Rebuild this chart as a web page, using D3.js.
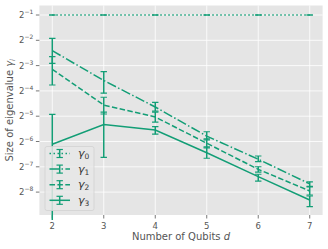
<!DOCTYPE html>
<html lang="en">
<head>
  <meta charset="utf-8">
  <script src="https://d3js.org/d3.v7.min.js"></script>
  <style>
    body { margin: 0; background: #fff; }
    text { font-family: "DejaVu Sans", sans-serif; }
  </style>
</head>
<body>
  <svg width="328" height="249" id="chart"></svg>
  <script>
    // data
    let qubits = [2, 3, 4, 5, 6, 7];
    let yTicks = [-1, -2, -3, -4, -5, -6, -7, -8]; // powers of two

    let gamma0 = [0.5, 0.5, 0.5, 0.5, 0.5, 0.5];
    let gamma0Lo = [0.5, 0.5, 0.5, 0.5, 0.5, 0.5];
    let gamma0Hi = [0.5, 0.5, 0.5, 0.5, 0.5, 0.5];

    let gamma1 = [0.188, 0.0831, 0.0402, 0.0181, 0.00962, 0.00489];
    let gamma1Lo = [0.133, 0.0587, 0.0360, 0.0163, 0.00898, 0.00456];
    let gamma1Hi = [0.264, 0.106, 0.0457, 0.0204, 0.0105, 0.00518];

    let gamma2 = [0.113, 0.0424, 0.0306, 0.0149, 0.00729, 0.00403];
    let gamma2Lo = [0.0735, 0.0332, 0.0266, 0.0131, 0.00677, 0.00361];
    let gamma2Hi = [0.160, 0.0525, 0.0350, 0.0168, 0.00782, 0.00449];

    let gamma3 = [0.0145, 0.0249, 0.0214, 0.0115, 0.00596, 0.00315];
    let gamma3Lo = [0.001, 0.0101, 0.0191, 0.00987, 0.00529, 0.00263];
    let gamma3Hi = [0.0329, 0.0350, 0.0235, 0.0135, 0.00637, 0.00351];

    let seriesNames = ["0", "1", "2", "3"];
    let dashes = ["1.5,2.5", "9.6,2.4,1.5,2.4", "5.5,2.4", null];

    let series = [
      {v: gamma0, lo: gamma0Lo, hi: gamma0Hi},
      {v: gamma1, lo: gamma1Lo, hi: gamma1Hi},
      {v: gamma2, lo: gamma2Lo, hi: gamma2Hi},
      {v: gamma3, lo: gamma3Lo, hi: gamma3Hi}
    ];

    let color = "#139e76";
    let svg = d3.select("#chart");
    let pLeft = 39.4, pRight = 322.6, pTop = 5.5, pBottom = 215;

    let x = d3.scaleLinear().domain([1.75, 7.25]).range([pLeft, pRight]);
    let y = d3.scaleLog().base(2)
      .domain([Math.pow(2, -8.905), Math.pow(2, -0.6245)])
      .range([pBottom, pTop]);

    svg.append("defs").append("clipPath").attr("id", "clip")
      .append("rect").attr("x", pLeft).attr("y", pTop)
      .attr("width", pRight - pLeft).attr("height", pBottom - pTop + 5);

    svg.append("rect").attr("x", pLeft).attr("y", pTop)
      .attr("width", pRight - pLeft).attr("height", pBottom - pTop)
      .attr("fill", "#e5e5e5");

    // grid
    svg.append("g").selectAll("line").data(qubits).enter().append("line")
      .attr("x1", d => x(d)).attr("x2", d => x(d))
      .attr("y1", pTop).attr("y2", pBottom)
      .attr("stroke", "#fff").attr("stroke-width", 0.8);
    svg.append("g").selectAll("line").data(yTicks).enter().append("line")
      .attr("x1", pLeft).attr("x2", pRight)
      .attr("y1", d => y(Math.pow(2, d))).attr("y2", d => y(Math.pow(2, d)))
      .attr("stroke", "#fff").attr("stroke-width", 0.8);

    // x axis
    let xAxis = svg.append("g");
    xAxis.selectAll("line").data(qubits).enter().append("line")
      .attr("x1", d => x(d)).attr("x2", d => x(d))
      .attr("y1", pBottom).attr("y2", pBottom + 3.5)
      .attr("stroke", "#555").attr("stroke-width", 0.8);
    xAxis.selectAll("text").data(qubits).enter().append("text")
      .attr("x", d => x(d)).attr("y", pBottom + 14)
      .attr("text-anchor", "middle").attr("font-size", 8.5).attr("fill", "#555")
      .text(d => d);

    // y axis
    let yAxis = svg.append("g");
    yAxis.selectAll("line").data(yTicks).enter().append("line")
      .attr("x1", pLeft - 3.5).attr("x2", pLeft)
      .attr("y1", d => y(Math.pow(2, d))).attr("y2", d => y(Math.pow(2, d)))
      .attr("stroke", "#555").attr("stroke-width", 0.8);
    let yl = yAxis.selectAll("text").data(yTicks).enter().append("text")
      .attr("x", pLeft - 6).attr("y", d => y(Math.pow(2, d)) + 3)
      .attr("text-anchor", "end").attr("font-size", 8.5).attr("fill", "#555");
    yl.append("tspan").text("2");
    yl.append("tspan").attr("dy", -4).attr("font-size", 6).text(d => "\u2212" + (-d));

    // axis titles
    let xt = svg.append("text").attr("x", (pLeft + pRight) / 2).attr("y", 240)
      .attr("text-anchor", "middle").attr("font-size", 10).attr("fill", "#555");
    xt.append("tspan").text("Number of Qubits ");
    xt.append("tspan").attr("font-style", "italic").text("d");

    let yt = svg.append("text")
      .attr("transform", "translate(13," + ((pTop + pBottom) / 2) + ") rotate(-90)")
      .attr("text-anchor", "middle").attr("font-size", 10).attr("fill", "#555");
    yt.append("tspan").text("Size of eigenvalue ");
    yt.append("tspan").attr("font-style", "italic").text("\u03b3");
    yt.append("tspan").attr("font-style", "italic").attr("font-size", 7).attr("dy", 2).text("i");

    // series
    let plot = svg.append("g").attr("clip-path", "url(#clip)");
    let line = d3.line().x(d => x(d.q)).y(d => y(d.v));
    let cap = 3.2;

    series.forEach((s, i) => {
      let pts = qubits.map((q, j) => ({q: q, v: s.v[j], lo: s.lo[j], hi: s.hi[j]}));
      let g = plot.append("g");
      g.append("path").datum(pts).attr("d", line)
        .attr("fill", "none").attr("stroke", color).attr("stroke-width", 1.5)
        .attr("stroke-dasharray", dashes[i]);
      g.selectAll(".bar").data(pts).enter().append("line")
        .attr("x1", d => x(d.q)).attr("x2", d => x(d.q))
        .attr("y1", d => y(d.lo)).attr("y2", d => y(d.hi))
        .attr("stroke", color).attr("stroke-width", 1.5);
      g.selectAll(".capLo").data(pts).enter().append("line")
        .attr("x1", d => x(d.q) - cap).attr("x2", d => x(d.q) + cap)
        .attr("y1", d => y(d.lo)).attr("y2", d => y(d.lo))
        .attr("stroke", color).attr("stroke-width", 1.2);
      g.selectAll(".capHi").data(pts).enter().append("line")
        .attr("x1", d => x(d.q) - cap).attr("x2", d => x(d.q) + cap)
        .attr("y1", d => y(d.hi)).attr("y2", d => y(d.hi))
        .attr("stroke", color).attr("stroke-width", 1.2);
    });

    // legend
    let lg = svg.append("g");
    lg.append("rect").attr("x", 45).attr("y", 146.5).attr("width", 49).attr("height", 64)
      .attr("rx", 2).attr("fill", "#e8e8e8").attr("fill-opacity", 0.85)
      .attr("stroke", "#d2d2d2").attr("stroke-width", 0.8);
    seriesNames.forEach((n, i) => {
      let ly = 153.5 + i * 15.6;
      lg.append("line").attr("x1", 49.5).attr("x2", 70).attr("y1", ly).attr("y2", ly)
        .attr("stroke", color).attr("stroke-width", 1.5).attr("stroke-dasharray", dashes[i]);
      lg.append("line").attr("x1", 59.7).attr("x2", 59.7).attr("y1", ly - 4).attr("y2", ly + 4)
        .attr("stroke", color).attr("stroke-width", 1.5);
      [ly - 4, ly + 4].forEach(cy => lg.append("line")
        .attr("x1", 59.7 - cap).attr("x2", 59.7 + cap).attr("y1", cy).attr("y2", cy)
        .attr("stroke", color).attr("stroke-width", 1.2));
      let t = lg.append("text").attr("x", 78).attr("y", ly + 3.5)
        .attr("font-size", 11).attr("fill", "#333");
      t.append("tspan").attr("font-style", "italic").text("\u03b3");
      t.append("tspan").attr("font-size", 7.5).attr("dy", 2).text(n);
    });
  </script>
</body>
</html>
